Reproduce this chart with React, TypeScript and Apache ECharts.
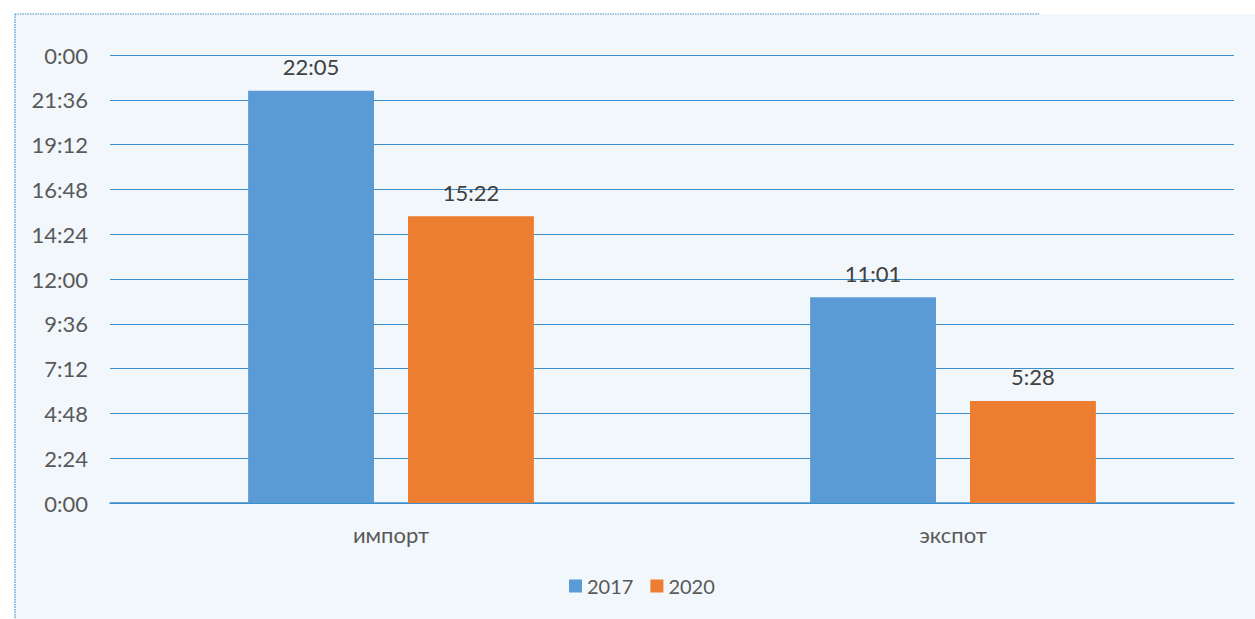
import React, { useEffect, useRef } from "react";
import * as echarts from "echarts";

const categories = ["импорт", "экспот"];
const seriesNames = ["2017", "2020"];
// values in minutes
const values2017 = [1325, 661];
const values2020 = [922, 328];
const colors = ["#5b9bd5", "#ed7d31"];

const fmt = (v: number) => {
  const m = Math.round(v) % 1440;
  const h = Math.floor(m / 60);
  const mm = m % 60;
  return `${h}:${mm < 10 ? "0" + mm : mm}`;
};

export default function App() {
  const ref = useRef<HTMLDivElement>(null);
  useEffect(() => {
    if (!ref.current) return;
    const chart = echarts.init(ref.current, undefined, { renderer: "svg" });
    const font = "Lato, 'Open Sans', sans-serif";
    const label = {
      show: true,
      position: "top",
      distance: 13,
      fontSize: 22,
      color: "#404040",
      fontFamily: font,
      formatter: (p: any) => fmt(p.value),
    };
    chart.setOption({
      animation: false,
      backgroundColor: "#ffffff",
      textStyle: { fontFamily: font },
      graphic: [
        {
          type: "rect",
          shape: { x: 15, y: 14, width: 1240, height: 605 },
          style: { fill: "#f2f7fb" },
          z: -10,
        },
        {
          type: "line",
          shape: { x1: 15, y1: 14, x2: 1040, y2: 14 },
          style: { stroke: "#3d8fcc", lineWidth: 1.2, lineDash: [1.5, 1] },
          z: -5,
        },
        {
          type: "line",
          shape: { x1: 15, y1: 14, x2: 15, y2: 619 },
          style: { stroke: "#3d8fcc", lineWidth: 1.2, lineDash: [1.5, 1] },
          z: -5,
        },
      ],
      grid: { left: 110, right: 21, top: 55, bottom: 116, containLabel: false },
      legend: {
        data: seriesNames,
        bottom: 18,
        left: 564,
        itemWidth: 13,
        itemHeight: 13,
        itemGap: 17,
        icon: "rect",
        textStyle: { fontSize: 20, color: "#595959", fontFamily: font },
      },
      xAxis: {
        type: "category",
        data: categories,
        axisLine: { show: true, lineStyle: { color: "#3d8fcc", width: 1.5 } },
        axisTick: { show: false },
        axisLabel: { fontSize: 22, color: "#595959", margin: 20, fontFamily: font },
      },
      yAxis: {
        type: "value",
        min: 0,
        max: 1440,
        interval: 144,
        axisLine: { show: false },
        axisTick: { show: false },
        axisLabel: {
          fontSize: 22,
          color: "#595959",
          margin: 22,
          fontFamily: font,
          formatter: (v: number) => fmt(v),
        },
        splitLine: { lineStyle: { color: "#3d8fcc", width: 1.2 } },
      },
      series: [
        {
          name: seriesNames[0],
          type: "bar",
          data: values2017,
          barWidth: "22.4%",
          barGap: "27%",
          itemStyle: { color: colors[0] },
          label,
        },
        {
          name: seriesNames[1],
          type: "bar",
          data: values2020,
          barWidth: "22.4%",
          itemStyle: { color: colors[1] },
          label,
        },
      ],
    });
    return () => chart.dispose();
  }, []);
  return (
    <div
      ref={ref}
      style={{ position: "absolute", left: 0, top: 0, width: 1255, height: 619 }}
    />
  );
}
